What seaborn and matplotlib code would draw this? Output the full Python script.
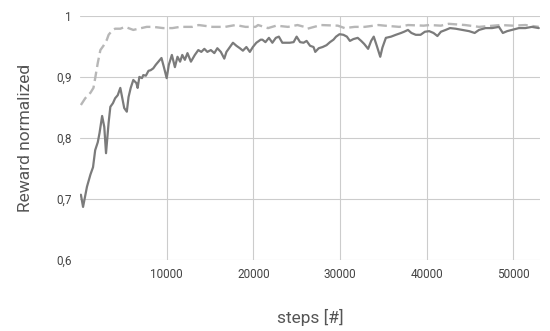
import matplotlib
matplotlib.use("Agg")
import pandas as pd
import matplotlib.pyplot as plt
import seaborn as sns

# solid curve: steps and normalized reward
solid_steps = [100, 350, 500, 800, 1200, 1500, 1750, 2050, 2250, 2550, 2800, 3000,
               3300, 3500, 3800, 4050, 4350, 4650, 4850, 5100, 5400, 5600, 5850,
               6150, 6500, 6650, 6850, 7150, 7300, 7600, 7900, 8150, 8450, 8750,
               9050, 9400, 9700, 10000, 10250, 10600, 10950, 11250, 11550, 11800,
               12100, 12400, 12800, 13250, 13650, 14000, 14350, 14700, 15100,
               15500, 15850, 16250, 16650, 16900, 17300, 17650, 18050, 18450,
               18800, 19200, 19600, 19950, 20350, 20850, 21050, 21400, 21800,
               22200, 22600, 22950, 23350, 23800, 24200, 24650, 25000, 25400,
               25800, 26150, 26550, 26950, 27150, 27550, 28000, 28450, 28850,
               29250, 29550, 29950, 30400, 30800, 31150, 31550, 32050, 32450,
               32800, 33250, 33600, 33900, 34250, 34650, 34900, 35300, 35900,
               36450, 37050, 37400, 37850, 38250, 38750, 39300, 39800, 40300,
               40800, 41250, 41650, 42200, 42700, 43350, 44100, 44900, 45550,
               46050, 46800, 47550, 48350, 48800, 49300, 49850, 50650, 51400,
               52150, 52950]
solid_reward = [0.707, 0.687, 0.698, 0.720, 0.740, 0.752, 0.780, 0.793, 0.808, 0.836,
                0.818, 0.775, 0.825, 0.851, 0.857, 0.865, 0.870, 0.882, 0.867, 0.849,
                0.843, 0.867, 0.882, 0.895, 0.890, 0.882, 0.900, 0.898, 0.903, 0.902,
                0.910, 0.911, 0.914, 0.920, 0.925, 0.931, 0.915, 0.898, 0.920, 0.936,
                0.916, 0.933, 0.925, 0.936, 0.928, 0.939, 0.925, 0.936, 0.944, 0.941,
                0.946, 0.941, 0.944, 0.939, 0.947, 0.941, 0.930, 0.941, 0.949, 0.956,
                0.951, 0.947, 0.943, 0.949, 0.941, 0.949, 0.956, 0.961, 0.961, 0.957,
                0.964, 0.956, 0.964, 0.966, 0.956, 0.956, 0.956, 0.957, 0.966, 0.957,
                0.956, 0.959, 0.951, 0.949, 0.941, 0.947, 0.949, 0.952, 0.957, 0.961,
                0.966, 0.970, 0.969, 0.966, 0.959, 0.962, 0.964, 0.959, 0.954, 0.946,
                0.959, 0.966, 0.951, 0.933, 0.948, 0.964, 0.966, 0.969, 0.972, 0.974,
                0.977, 0.972, 0.969, 0.969, 0.974, 0.975, 0.972, 0.967, 0.974, 0.977,
                0.980, 0.979, 0.977, 0.975, 0.972, 0.977, 0.980, 0.980, 0.982, 0.972,
                0.975, 0.977, 0.980, 0.980, 0.982, 0.980]

# dashed curve
dashed_steps = [100, 600, 1200, 1550, 1750, 2050, 2350, 2700, 3100, 3300, 3700, 4050,
                4650, 5200, 6150, 6750, 7700, 8450, 9600, 10650, 11550, 12950, 13700,
                15300, 16750, 17950, 19100, 20250, 20550, 21700, 22650, 24000, 25100,
                25900, 26250, 27800, 29750, 30550, 31700, 32850, 34450, 35150, 36850,
                37850, 39650, 40350, 41650, 42550, 44450, 46050, 48550, 49950, 51400,
                52950]
dashed_reward = [0.854, 0.865, 0.874, 0.882, 0.898, 0.923, 0.944, 0.951, 0.961, 0.969,
                 0.976, 0.979, 0.979, 0.982, 0.977, 0.979, 0.982, 0.982, 0.980, 0.980,
                 0.982, 0.982, 0.985, 0.982, 0.982, 0.985, 0.982, 0.982, 0.985, 0.980,
                 0.984, 0.982, 0.985, 0.982, 0.979, 0.985, 0.984, 0.980, 0.982, 0.982,
                 0.985, 0.984, 0.982, 0.985, 0.984, 0.985, 0.984, 0.987, 0.985, 0.982,
                 0.985, 0.984, 0.985, 0.982]

y_ticks = [0.6, 0.7, 0.8, 0.9, 1.0]
y_tick_labels = ["0,6", "0,7", "0,8", "0,9", "1"]
x_ticks = [10000, 20000, 30000, 40000, 50000]

sns.set_theme(style="whitegrid")
plt.rcParams["font.family"] = ["Roboto", "DejaVu Sans"]

df_solid = pd.DataFrame({"steps": solid_steps, "reward": solid_reward})
df_dashed = pd.DataFrame({"steps": dashed_steps, "reward": dashed_reward})

fig, ax = plt.subplots(figsize=(5.5, 3.31), dpi=100)
fig.subplots_adjust(left=0.1455, right=0.982, top=0.952, bottom=0.2145)

sns.lineplot(data=df_dashed, x="steps", y="reward", ax=ax, color="#b7b7b7",
             linewidth=1.7)
ax.lines[-1].set_dashes([4, 2])
sns.lineplot(data=df_solid, x="steps", y="reward", ax=ax, color="#7b7b7b",
             linewidth=1.6)

ax.set_xlim(0, 53100)
ax.set_ylim(0.6, 1.0)
ax.set_xticks(x_ticks)
ax.set_xticklabels([str(t) for t in x_ticks])
ax.set_yticks(y_ticks)
ax.set_yticklabels(y_tick_labels)
ax.tick_params(axis="both", labelsize=8.5, colors="#444444", length=0, pad=6)

ax.grid(True, color="#cccccc", linewidth=0.8)
for s in ax.spines.values():
    s.set_visible(False)

ax.set_xlabel("steps [#]", fontsize=12.5, color="#555555", labelpad=20)
ax.set_ylabel("Reward normalized", fontsize=12.5, color="#555555", labelpad=17)

plt.savefig("out.png", dpi=100)
